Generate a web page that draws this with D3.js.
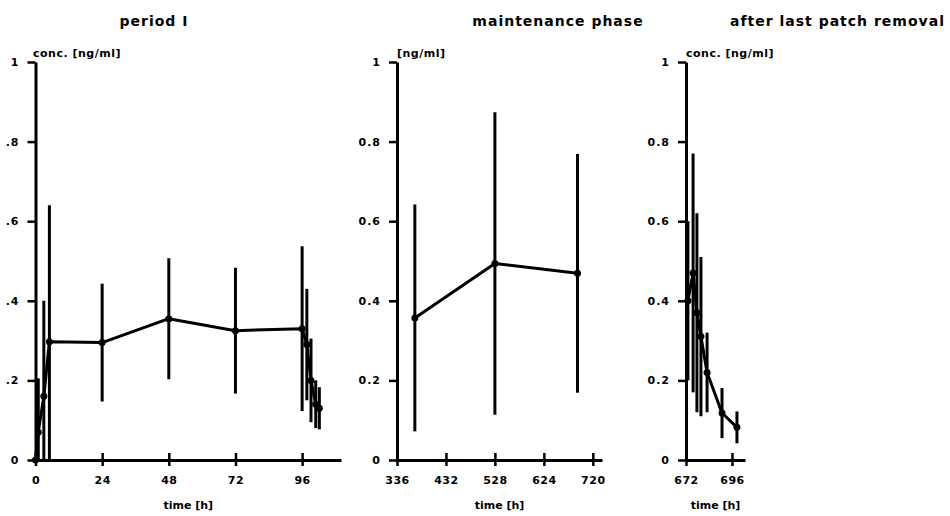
<!DOCTYPE html>
<html>
<head>
<meta charset="utf-8">
<script src="https://cdn.jsdelivr.net/npm/d3@7"></script>
<style>
  html, body { margin: 0; padding: 0; background: #fff; }
  svg { display: block; }
  text { font-family: "DejaVu Sans", sans-serif; font-weight: bold; fill: #000; }
</style>
</head>
<body>
<svg id="chart" width="950" height="516"></svg>
<script>
// Concentration scale shared by the three panels
const yTicks = [0, 0.2, 0.4, 0.6, 0.8, 1];
const yLabelsShort = ["0", ".2", ".4", ".6", ".8", "1"];
const yLabelsLong = ["0", "0.2", "0.4", "0.6", "0.8", "1"];

// Period I: first application up to patch removal
const periodTime = [0, 1, 3, 5, 24, 48, 72, 96, 97.7, 99.2, 100.9, 102.2];
const periodMean = [0, 0.07, 0.16, 0.297, 0.295, 0.355, 0.325, 0.33, 0.29, 0.20, 0.14, 0.13];
const periodSd   = [0, 0.135, 0.24, 0.343, 0.148, 0.152, 0.158, 0.207, 0.14, 0.105, 0.06, 0.053];
const periodXTicks = [0, 24, 48, 72, 96];

// Maintenance phase
const maintTime = [371, 528, 690];
const maintMean = [0.357, 0.494, 0.469];
const maintSd   = [0.285, 0.38, 0.30];
const maintXTicks = [336, 432, 528, 624, 720];

// After the last patch was removed
const afterTime = [673, 675.7, 677.7, 679.8, 683, 690.8, 698.6];
const afterMean = [0.40, 0.47, 0.37, 0.31, 0.22, 0.118, 0.082];
const afterSd   = [0.20, 0.30, 0.25, 0.20, 0.10, 0.063, 0.04];
const afterXTicks = [672, 696];

const titles = ["period I", "maintenance phase", "after last patch removal"];
const yTitles = ["conc. [ng/ml]", "[ng/ml]", "conc. [ng/ml]"];
const xTitle = "time [h]";

const svg = d3.select("#chart");
const y = d3.scaleLinear().domain([0, 1]).range([460, 62]);

const panels = [
  { time: periodTime, mean: periodMean, sd: periodSd, xTicks: periodXTicks,
    domain: [0, 110], range: [35.5, 341], yLabels: yLabelsShort,
    title: titles[0], titleX: 154, titleAnchor: "middle",
    yTitle: yTitles[0], yTitleX: 33 },
  { time: maintTime, mean: maintMean, sd: maintSd, xTicks: maintXTicks,
    domain: [336, 738], range: [397, 602], yLabels: yLabelsLong,
    title: titles[1], titleX: 558, titleAnchor: "middle",
    yTitle: yTitles[1], yTitleX: 397 },
  { time: afterTime, mean: afterMean, sd: afterSd, xTicks: afterXTicks,
    domain: [672, 702.8], range: [686, 745], yLabels: yLabelsLong,
    title: titles[2], titleX: 730, titleAnchor: "start",
    yTitle: yTitles[2], yTitleX: 686 }
];

panels.forEach(p => {
  const x = d3.scaleLinear().domain(p.domain).range(p.range);
  const g = svg.append("g");

  // y axis
  const yAxis = d3.axisLeft(y)
    .tickValues(yTicks)
    .tickFormat((d, i) => p.yLabels[i])
    .tickSizeInner(8)
    .tickSizeOuter(0)
    .tickPadding(8);
  const ya = g.append("g")
    .attr("transform", `translate(${p.range[0]},0)`)
    .call(yAxis);
  ya.select(".domain").attr("stroke", "#000").attr("stroke-width", 3);
  ya.selectAll(".tick line").attr("stroke", "#000").attr("stroke-width", 2.5);
  ya.selectAll(".tick text").attr("font-size", 11).attr("fill", "#000")
    .style("letter-spacing", "1px");

  // x axis
  const xAxis = d3.axisBottom(x)
    .tickValues(p.xTicks)
    .tickFormat(d3.format("d"))
    .tickSizeInner(6)
    .tickSizeOuter(0)
    .tickPadding(10);
  const xa = g.append("g")
    .attr("transform", `translate(0,${y(0)})`)
    .call(xAxis);
  xa.select(".domain").attr("stroke", "#000").attr("stroke-width", 3);
  xa.selectAll(".tick line").attr("y1", -7).attr("stroke", "#000").attr("stroke-width", 2.5);
  xa.selectAll(".tick text").attr("font-size", 11).attr("fill", "#000")
    .style("letter-spacing", "0.5px");

  // titles
  g.append("text")
    .attr("x", p.titleX).attr("y", 26)
    .attr("text-anchor", p.titleAnchor)
    .attr("font-size", 14)
    .style("letter-spacing", "1px")
    .text(p.title);
  g.append("text")
    .attr("x", p.yTitleX).attr("y", 57)
    .attr("font-size", 11)
    .style("letter-spacing", "0.5px")
    .text(p.yTitle);
  g.append("text")
    .attr("x", (p.range[0] + p.range[1]) / 2).attr("y", 509)
    .attr("text-anchor", "middle")
    .attr("font-size", 11)
    .text(xTitle);

  const pts = p.time.map((t, i) => ({ t, m: p.mean[i], s: p.sd[i] }));

  // error bars (mean ± SD, floored at zero)
  g.append("g").selectAll("line")
    .data(pts.filter(d => d.s > 0))
    .join("line")
    .attr("x1", d => x(d.t)).attr("x2", d => x(d.t))
    .attr("y1", d => y(Math.max(0, d.m - d.s)))
    .attr("y2", d => y(d.m + d.s))
    .attr("stroke", "#000").attr("stroke-width", 3);

  // mean curve
  g.append("path")
    .datum(pts)
    .attr("fill", "none")
    .attr("stroke", "#000")
    .attr("stroke-width", 3)
    .attr("stroke-linejoin", "round")
    .attr("d", d3.line().x(d => x(d.t)).y(d => y(d.m)));

  g.append("g").selectAll("circle")
    .data(pts)
    .join("circle")
    .attr("cx", d => x(d.t)).attr("cy", d => y(d.m))
    .attr("r", 3.5).attr("fill", "#000");
});
</script>
</body>
</html>
